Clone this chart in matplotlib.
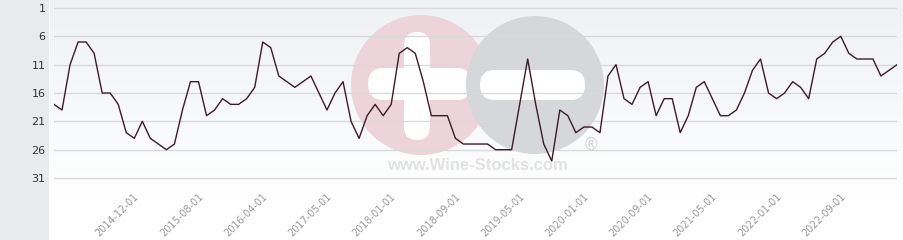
import numpy as np
import matplotlib
matplotlib.use("Agg")
import matplotlib.pyplot as plt
from matplotlib.patches import Circle, FancyBboxPatch
from matplotlib.transforms import ScaledTranslation

# Ranking mensual (1 = mejor)
valores = [18, 19, 11, 7, 7, 9, 16, 16, 18, 23, 24, 21, 24, 25, 26, 25, 19, 14, 14, 20,
           19, 17, 18, 18, 17, 15, 7, 8, 13, 14, 15,
           14, 13, 16, 19, 16, 14, 21, 24, 20, 18, 20, 18, 9, 8, 9, 14, 20, 20, 20, 24,
           25, 25, 25, 25, 26, 26, 26, 18, 10, 18, 25, 28, 19, 20, 23, 22, 22, 23,
           13, 11, 17, 18, 15, 14, 20, 17, 17, 23, 20, 15, 14, 17, 20, 20, 19, 16, 12, 10,
           16, 17, 16, 14, 15, 17, 10, 9, 7, 6, 9, 10, 10, 10, 13, 12, 11]

etiquetas_x = ['2014-12-01', '2015-08-01', '2016-04-01', '2017-05-01', '2018-01-01',
               '2018-09-01', '2019-05-01', '2020-01-01', '2020-09-01', '2021-05-01',
               '2022-01-01', '2022-09-01']
ticks_y = [1, 6, 11, 16, 21, 26, 31]

W, H = 904, 240
fig = plt.figure(figsize=(W / 100, H / 100), dpi=100)

# Fondo: panel gris a la izquierda, degradado en la zona del grafico
fondo = fig.add_axes([0, 0, 1, 1], zorder=0)
fondo.set_xlim(0, W)
fondo.set_ylim(H, 0)
fondo.axis('off')
fondo.add_patch(plt.Rectangle((0, 0), 49, H, color='#e8ebee', lw=0))
c1 = np.array(matplotlib.colors.to_rgb('#eff1f5'))
c2 = np.array([1.0, 1.0, 1.0])
t = np.clip(np.linspace(0, 1, 240) * 1.2, 0, 1)[:, None, None]
grad = c1 * (1 - t) + c2 * t
fondo.imshow(grad, extent=[50.5, W, H, 0], aspect='auto', zorder=0.5)


def barra(x, y, w, h, z):
    r = min(w, h) / 2
    fondo.add_patch(FancyBboxPatch((x + r, y + r), w - 2 * r, h - 2 * r,
                                   boxstyle='round,pad=%f' % r,
                                   color='white', lw=0, zorder=z))


# Marca de agua (logo +/-): el circulo gris tapa el brazo derecho del +
fondo.add_patch(Circle((421, 85), 70, color='#ecd4da', lw=0, zorder=1))
barra(404, 32, 26, 108, 1.05)
barra(368, 68, 104, 32, 1.05)
fondo.add_patch(Circle((535, 85), 69, color='#d6d7da', lw=0, zorder=1.1))
barra(480, 70, 105, 30, 1.2)
fondo.text(477, 166, 'www.Wine-Stocks.com', ha='center', va='center',
           fontsize=12, fontweight='bold', family='Liberation Sans',
           color='#e2e2e2', zorder=1.3)
fondo.text(591, 145, '®', ha='center', va='center', fontsize=12,
           color='#d9d9d9', zorder=1.3)

# Grafico principal
ax = fig.add_axes([54 / W, 55 / H, 843 / W, 185 / H], zorder=1)
ax.patch.set_alpha(0)
x = np.arange(len(valores))
ax.plot(x, valores, color='#3a1c2a', lw=1, zorder=3)
ax.set_xlim(0, len(valores) - 1)
ax.set_ylim(32.23, -0.41)

ax.set_yticks(ticks_y)
ax.yaxis.grid(True, color='#d9d9d9', lw=1)
ax.tick_params(axis='y', length=0, pad=6, labelsize=8, labelcolor='#333333')
for s in ax.spines.values():
    s.set_visible(False)

ax.set_xticks(10 + 8 * np.arange(len(etiquetas_x)))
ax.set_xticklabels(etiquetas_x, rotation=45, ha='right', va='center',
                   rotation_mode='anchor', fontsize=7, color='#9a9a9a')
ax.tick_params(axis='x', length=0, pad=7)
desplaza = ScaledTranslation(3 / 100, 0, fig.dpi_scale_trans)
for lab in ax.get_xticklabels():
    lab.set_transform(lab.get_transform() + desplaza)

fig.savefig('out.png', dpi=100)
